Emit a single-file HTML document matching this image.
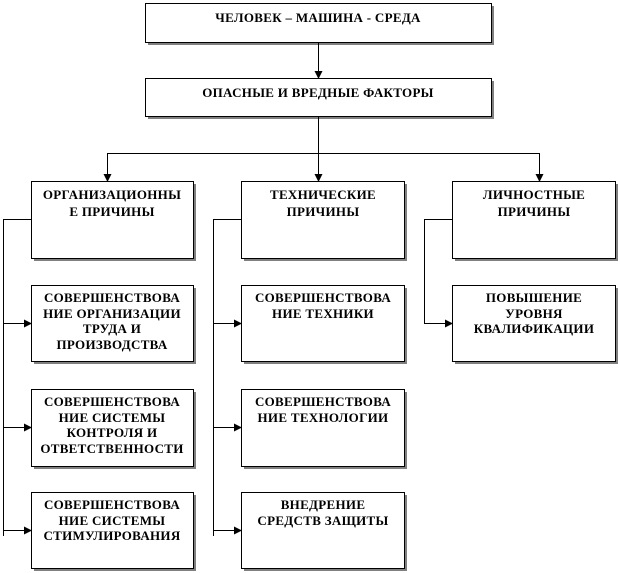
<!DOCTYPE html>
<html><head><meta charset="utf-8"><style>
html,body{margin:0;padding:0;background:#fff;}
svg{display:block;}
text{font-family:"Liberation Serif","DejaVu Serif",serif;font-weight:bold;font-size:13px;letter-spacing:0.3px;fill:#000;text-anchor:middle;}
</style></head><body>
<svg width="620" height="573" viewBox="0 0 620 573" xmlns="http://www.w3.org/2000/svg">
<defs>
<marker id="a" markerWidth="8" markerHeight="8" refX="7" refY="4" orient="auto" markerUnits="userSpaceOnUse">
<path d="M0,0 L8,4 L0,8 z" fill="#000"/></marker>
</defs>
<g fill="#808080">
<rect x="148" y="6" width="346" height="39"/>
<rect x="148" y="81" width="346" height="38"/>
<rect x="34" y="184" width="162" height="77"/><rect x="244" y="184" width="163" height="77"/><rect x="455" y="184" width="163" height="77"/>
<rect x="34" y="288" width="162" height="76"/><rect x="244" y="288" width="163" height="76"/><rect x="455" y="288" width="163" height="76"/>
<rect x="34" y="392" width="162" height="77"/><rect x="244" y="392" width="163" height="77"/>
<rect x="34" y="495" width="162" height="76"/><rect x="244" y="495" width="163" height="76"/>
</g>
<g fill="#fff" stroke="#000" stroke-width="1">
<rect x="145.5" y="3.5" width="346" height="39"/>
<rect x="145.5" y="78.5" width="346" height="38"/>
<rect x="31.5" y="181.5" width="162" height="77"/><rect x="241.5" y="181.5" width="163" height="77"/><rect x="452.5" y="181.5" width="163" height="77"/>
<rect x="31.5" y="285.5" width="162" height="76"/><rect x="241.5" y="285.5" width="163" height="76"/><rect x="452.5" y="285.5" width="163" height="76"/>
<rect x="31.5" y="389.5" width="162" height="77"/><rect x="241.5" y="389.5" width="163" height="77"/>
<rect x="31.5" y="492.5" width="162" height="76"/><rect x="241.5" y="492.5" width="163" height="76"/>
</g>
<g stroke="#000" stroke-width="1" fill="none">
<line x1="318.5" y1="43" x2="318.5" y2="78" marker-end="url(#a)"/>
<line x1="318.5" y1="117" x2="318.5" y2="153.5"/>
<line x1="107" y1="153.5" x2="540" y2="153.5"/>
<line x1="107.5" y1="153" x2="107.5" y2="181" marker-end="url(#a)"/>
<line x1="318.5" y1="153" x2="318.5" y2="181" marker-end="url(#a)"/>
<line x1="539.5" y1="153" x2="539.5" y2="181" marker-end="url(#a)"/>
<polyline points="31,219.5 3.5,219.5 3.5,536"/>
<line x1="3" y1="323.5" x2="31" y2="323.5" marker-end="url(#a)"/>
<line x1="3" y1="427.5" x2="31" y2="427.5" marker-end="url(#a)"/>
<line x1="3" y1="530.5" x2="31" y2="530.5" marker-end="url(#a)"/>
<polyline points="241,219.5 213.5,219.5 213.5,536"/>
<line x1="213" y1="323.5" x2="241" y2="323.5" marker-end="url(#a)"/>
<line x1="213" y1="427.5" x2="241" y2="427.5" marker-end="url(#a)"/>
<line x1="213" y1="530.5" x2="241" y2="530.5" marker-end="url(#a)"/>
<polyline points="452,219.5 424.5,219.5 424.5,323.5 452,323.5" marker-end="url(#a)"/>
</g>
<text x="318" y="22">ЧЕЛОВЕК – МАШИНА - СРЕДА</text>
<text x="318" y="97">ОПАСНЫЕ И ВРЕДНЫЕ ФАКТОРЫ</text>
<text x="112" y="199">ОРГАНИЗАЦИОННЫ</text><text x="112" y="216">Е ПРИЧИНЫ</text>
<text x="323" y="199">ТЕХНИЧЕСКИЕ</text><text x="323" y="216">ПРИЧИНЫ</text>
<text x="534" y="199">ЛИЧНОСТНЫЕ</text><text x="534" y="216">ПРИЧИНЫ</text>
<text x="112" y="302">СОВЕРШЕНСТВОВА</text><text x="112" y="318">НИЕ ОРГАНИЗАЦИИ</text><text x="112" y="333">ТРУДА И</text><text x="112" y="349">ПРОИЗВОДСТВА</text>
<text x="323" y="302">СОВЕРШЕНСТВОВА</text><text x="323" y="318">НИЕ ТЕХНИКИ</text>
<text x="534" y="302">ПОВЫШЕНИЕ</text><text x="534" y="318">УРОВНЯ</text><text x="534" y="333">КВАЛИФИКАЦИИ</text>
<text x="112" y="406">СОВЕРШЕНСТВОВА</text><text x="112" y="422">НИЕ СИСТЕМЫ</text><text x="112" y="437">КОНТРОЛЯ И</text><text x="112" y="453">ОТВЕТСТВЕННОСТИ</text>
<text x="323" y="406">СОВЕРШЕНСТВОВА</text><text x="323" y="422">НИЕ ТЕХНОЛОГИИ</text>
<text x="112" y="509">СОВЕРШЕНСТВОВА</text><text x="112" y="525">НИЕ СИСТЕМЫ</text><text x="112" y="540">СТИМУЛИРОВАНИЯ</text>
<text x="323" y="509">ВНЕДРЕНИЕ</text><text x="323" y="525">СРЕДСТВ ЗАЩИТЫ</text>
</svg>
</body></html>
